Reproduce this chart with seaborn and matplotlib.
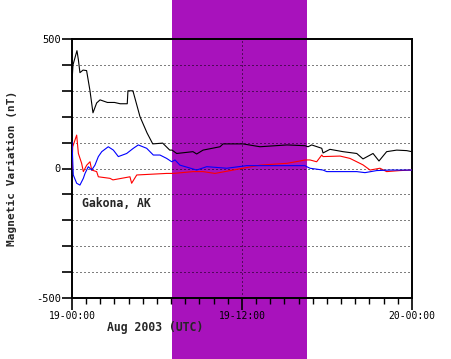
import pandas as pd
import matplotlib
matplotlib.use("Agg")
import matplotlib.pyplot as plt
from matplotlib.ticker import MultipleLocator, FixedLocator
import seaborn as sns

# --- DATA (hours since 19-00:00 UTC, nT) ---
black_t = [0.0, 0.07, 0.35, 0.45, 0.56, 0.78, 1.03, 1.27, 1.48, 1.74, 1.98, 2.5, 3.0, 3.4, 3.9,
           3.95, 4.3, 4.8, 5.3, 5.7, 6.4, 6.9, 7.06, 7.39, 8.54, 8.80, 9.25, 10.45, 10.66,
           12.07, 13.27, 15.18, 16.45, 16.66, 16.92, 17.63, 17.72, 18.21, 19.13, 20.10,
           20.54, 21.25, 21.67, 22.21, 22.92, 23.63, 23.98]
black_v = [335, 400, 455, 420, 370, 380, 378, 300, 215, 253, 265, 255, 255, 250, 250,
           300, 300, 200, 137, 95, 98, 71, 71, 58, 65, 56, 71, 84, 95,
           95, 84, 91, 88, 84, 91, 78, 60, 74, 65, 58,
           37, 58, 29, 65, 71, 69, 65]

red_t = [0.0, 0.05, 0.33, 0.45, 0.68, 0.8, 1.04, 1.27, 1.39, 1.74, 1.86, 2.68, 2.89, 4.09,
         4.21, 4.57, 6.68, 7.15, 8.54, 9.25, 10.09, 12.07, 13.27, 15.18, 16.09, 16.45, 16.8,
         17.27, 17.63, 17.72, 18.92, 19.62, 20.10, 20.54, 21.04, 21.74, 22.21, 23.15, 23.98]
red_v = [-3, 84, 129, 58, 20, -12, 13, 26, -6, -12, -32, -38, -44, -32,
         -57, -25, -19, -19, -12, -12, -19, 1, 13, 20, 29, 33, 33,
         26, 52, 46, 48, 39, 26, 14, -6, 1, -12, -8, -6]

blue_t = [0.0, 0.09, 0.33, 0.56, 0.8, 0.92, 1.15, 1.39, 1.62, 1.86, 2.10, 2.56, 2.92, 3.27,
          3.86, 4.33, 4.68, 5.27, 5.74, 6.21, 6.68, 7.04, 7.27, 7.62, 8.80, 9.51, 10.92,
          12.33, 14.45, 16.45, 16.57, 16.8, 17.72, 17.98, 20.10, 20.68, 21.51, 22.45, 23.98]
blue_v = [103, -25, -57, -64, -38, -19, 7, -6, 13, 46, 65, 84, 71, 46,
          58, 78, 91, 78, 52, 52, 39, 26, 33, 13, -6, 7, 1,
          11, 11, 11, 7, 1, -6, -12, -12, -16, -8, -6, -6]

band_start, band_end = 7.06, 16.6
xtick_pos = [0, 12, 24]
xtick_labels = ["19-00:00", "19-12:00", "20-00:00"]
ytick_pos = [-500, 0, 500]

sns.set_theme(style="ticks")
plt.rcParams["font.family"] = ["DejaVu Sans Mono"]

fig = plt.figure(figsize=(4.52, 3.59), dpi=100)
ax = fig.add_axes([72 / 452, 61 / 359, 340 / 452, 259 / 359])
ax.set_facecolor("none")

series = [(black_t, black_v, "black"), (red_t, red_v, "#ff0000"), (blue_t, blue_v, "#0000ff")]
for t, v, c in series:
    df = pd.DataFrame({"t": t, "v": v})
    sns.lineplot(data=df, x="t", y="v", color=c, linewidth=0.8, ax=ax, zorder=3)

# daylight / shaded band over the full figure height
ax.axvspan(band_start, band_end, ymin=-0.24, ymax=1.16, color="#a812bc",
           clip_on=False, zorder=0.5, linewidth=0)

ax.set_xlim(0, 24)
ax.set_ylim(-500, 500)

# grid
for y in range(-400, 500, 100):
    ax.axhline(y, color="black", linewidth=0.72, dashes=(1, 3), zorder=1)
ax.axvline(12, color="black", linewidth=0.72, dashes=(1, 3), zorder=1)

ax.xaxis.set_major_locator(FixedLocator(xtick_pos))
ax.set_xticklabels(xtick_labels, fontsize=7)
ax.xaxis.set_minor_locator(MultipleLocator(1))
ax.yaxis.set_major_locator(FixedLocator(ytick_pos))
ax.set_yticklabels([str(v) for v in ytick_pos], fontsize=7.5)
ax.yaxis.set_minor_locator(MultipleLocator(100))
ax.tick_params(axis="x", which="major", length=8.5, width=1.2, pad=1, color="black")
ax.tick_params(axis="x", which="minor", length=4.3, width=1.0, color="black")
ax.tick_params(axis="y", which="both", length=7, width=1.2, pad=1, color="black")
ax.tick_params(labelcolor="black")

for s in ax.spines.values():
    s.set_color("black")
    s.set_linewidth(1.4)
    s.set_visible(True)

ax.set_xlabel("")
ax.set_ylabel("")
fig.text(12 / 452, 1 - 168.5 / 359, "Magnetic Variation (nT)", rotation=90,
         ha="center", va="center", fontsize=8, fontweight="bold")
fig.text(107 / 452, 1 - 328 / 359, "Aug 2003 (UTC)", ha="left", va="center",
         fontsize=8.3, fontweight="bold")
ax.text(0.029, 0.363, "Gakona, AK", transform=ax.transAxes, ha="left", va="center",
        fontsize=8.3, fontweight="bold")

fig.savefig("out.png", dpi=100, facecolor="white")
